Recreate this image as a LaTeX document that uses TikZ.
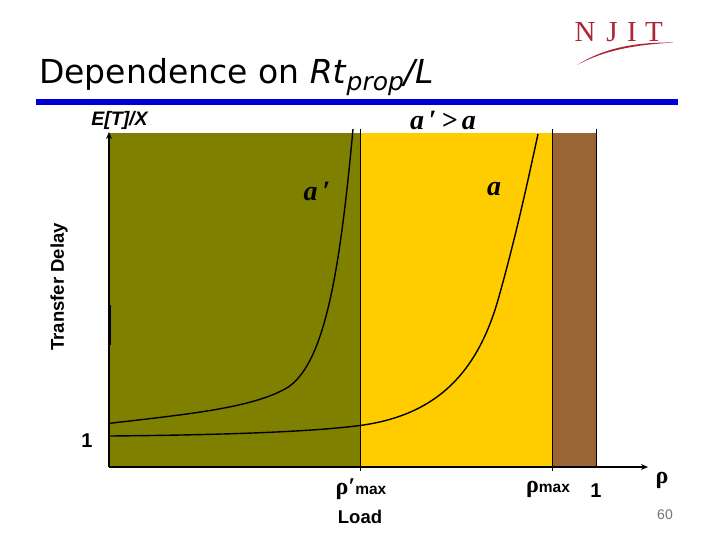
\documentclass[tikz,border=0pt]{standalone}
\usepackage{fontspec}
\usepackage{tikz}
\usetikzlibrary{arrows.meta, positioning}
\setmainfont{Liberation Sans}
\newfontfamily\titlefont{DejaVu Sans}
\newfontfamily\curvefont{Liberation Serif}
\definecolor{oliveband}{RGB}{128,128,0}
\definecolor{yellowband}{RGB}{255,204,0}
\definecolor{brownband}{RGB}{153,102,51}
\definecolor{rulecolor}{RGB}{0,0,214}
\definecolor{logored}{RGB}{176,36,56}
\tikzstyle{band} = [draw=none]
\tikzstyle{axis} = [draw, line width=1.6pt, -{Stealth[length=7pt,width=6pt]}]
\tikzstyle{curve} = [draw, line width=1.4pt]
\tikzstyle{limit} = [draw, line width=0.8pt]
\tikzstyle{heading} = [font=\titlefont\fontsize{33}{36}\selectfont, anchor=base west, inner sep=0pt]
\tikzstyle{tag} = [font=\bfseries\fontsize{18.5}{20}\selectfont, inner sep=0pt]
\tikzstyle{serif} = [font=\curvefont\bfseries\itshape\fontsize{28}{30}\selectfont, inner sep=0pt]
\tikzstyle{rholabel} = [font=\curvefont\bfseries\fontsize{24}{26}\selectfont, inner sep=0pt]
\tikzstyle{logo} = [font=\curvefont\fontsize{29}{32}\selectfont, text=logored, inner sep=0pt]
\newcommand{\maxsub}{{\rmfamily\fontsize{15.5}{16}\selectfont max}}
\begin{document}
\begin{tikzpicture}[x=1pt, y=-1pt]
	\useasboundingbox (0,0) rectangle (720,540);

	\fill [band, oliveband] (110,133) rectangle (360,467);
	\fill [band, yellowband] (360,133) rectangle (552,467);
	\fill [band, brownband] (552,133) rectangle (596,467);

	\path [limit] (360,129) -- (360,471);
	\path [limit] (552,129) -- (552,471);
	\path [limit] (596,129) -- (596,467);

	\coordinate (origin) at (109,467);
	\coordinate (ytip) at (109,132);
	\coordinate (xtip) at (648,467);
	\path [axis] (origin) -- (ytip);
	\path [axis] (origin) -- (xtip);
	\path [draw, line width=2pt] (109.5,305) -- (109.5,345);

	\path [curve] (108,423.5) .. controls (190,414) and (250,408) .. (285,389)
		.. controls (325,367) and (340,270) .. (353,129);
	\path [curve] (110,436) .. controls (220,435) and (310,432) .. (360,425.5)
		.. controls (430,416) and (475,380) .. (498,300)
		.. controls (515,240) and (527,185) .. (538,134);

	\fill [rulecolor] (36,99) rectangle (678,105);

	\node [heading] (title) at (39,84) {Dependence on \textit{Rt}\raisebox{-7pt}{\fontsize{25}{27}\selectfont\textit{prop}}\textit{/L}};

	\node [tag, font=\bfseries\itshape\fontsize{19.5}{20}\selectfont] (ylabel) at (119.5,120) {E[T]/X};
	\node [serif] (relation) at (443,120) {a\,′\,>\,a};
	\node [serif] (aprime) at (317,191) {a\,′};
	\node [serif] (aplain) at (494,189) {a};
	\node [tag, rotate=90] (delay) at (59,287) {Transfer Delay};
	\node [tag, font=\bfseries\fontsize{20}{22}\selectfont] (one) at (87,441) {1};
	\node [rholabel] (rhoprime) at (361,489) {ρ′\maxsub};
	\node [tag] (load) at (360,517) {Load};
	\node [rholabel] (rhomax) at (548,489) {ρ\maxsub};
	\node [tag, font=\bfseries\fontsize{20}{22}\selectfont] (unit) at (596,491) {1};
	\node [rholabel] (rho) at (662,480) {ρ};
	\node [font=\fontsize{14}{16}\selectfont, text=black!55, inner sep=0pt] (page) at (665,515) {60};

	% logo
	\node [logo, anchor=base] (njitn) at (585,42) {N};
	\node [logo, anchor=base] (njitj) at (612,42) {J};
	\node [logo, anchor=base] (njiti) at (632,42) {I};
	\node [logo, anchor=base] (njitt) at (654,42) {T};
	\fill [logored] (577,65) .. controls (598,52) and (625,42) .. (673,42.5)
		.. controls (635,45) and (605,50) .. (577,65);
\end{tikzpicture}
\end{document}
